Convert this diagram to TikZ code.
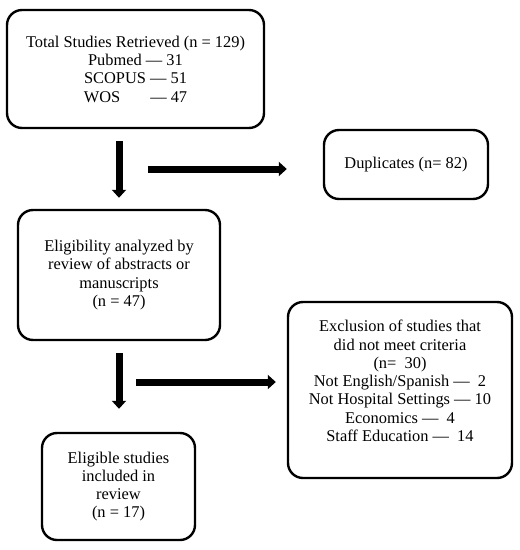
\documentclass[tikz,border=0pt]{standalone}
\usepackage{fontspec}
\setmainfont{Liberation Serif}
\usepackage{tikz}
\usetikzlibrary{arrows.meta}

\begin{document}
\begin{tikzpicture}[x=1pt,y=-1pt,
  every node/.style={font=\fontsize{16.4}{18.3}\selectfont},
  stage/.style={draw,line width=2.4pt,rounded corners=15pt,align=center,inner sep=0pt},
  flow/.style={line width=7pt,-{Triangle[width=14pt,length=8pt]}}]

\useasboundingbox (0,0) rectangle (520,550);

% boxes of the flow
\node[stage,minimum width=257,minimum height=118] (total) at (135.5,69)
  {Total Studies Retrieved (n = 129)\\ Pubmed — 31\\ SCOPUS — 51\\ WOS\hspace{30pt}— 47};
\node[stage,minimum width=164,minimum height=69] (duplicates) at (406,164.5)
  {Duplicates (n= 82)};
\node[stage,minimum width=202,minimum height=130] (review) at (119,275)
  {Eligibility analyzed by\\ review of abstracts or\\ manuscripts\\ (n = 47)};
\node[stage,minimum width=224,minimum height=176] (exclusion) at (400,390)
  {Exclusion of studies that\\ did not meet criteria\\ (n=~ 30)\\ Not English/Spanish —~ 2\\
   Not Hospital Settings — 10\\ Economics —~ 4\\ Staff Education —~ 14\\ \mbox{}};
\node[stage,minimum width=153,minimum height=107] (eligible) at (118.5,486.5)
  {Eligible studies\\ included in\\ review\\ (n = 17)};

% forks of the side arrows
\coordinate (dupfork) at (148,169);
\coordinate (exfork) at (136,382);

% arrows down
\draw[flow,shorten <=12pt,shorten >=11pt] (review.north |- total.south) -- (review.north);
\draw[flow,shorten <=12pt,shorten >=23pt] (review.south) -- (review.south |- eligible.north);

% arrows to the side
\draw[flow,shorten >=36pt] (dupfork) -- (dupfork -| duplicates.west);
\draw[flow,shorten >=11pt] (exfork) -- (exfork -| exclusion.west);
\end{tikzpicture}
\end{document}
